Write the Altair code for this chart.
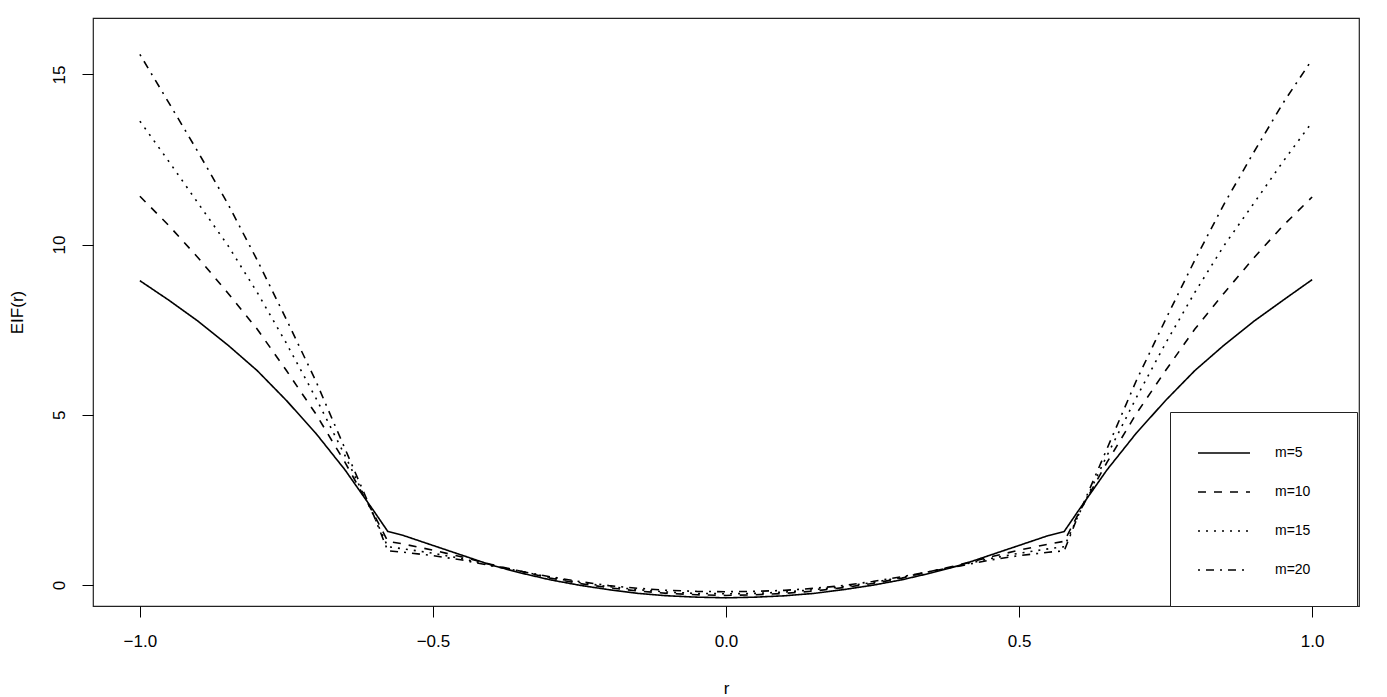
import altair as alt
import pandas as pd

# ---- data ----
r_values = [-1.0, -0.95, -0.9, -0.85, -0.8, -0.75, -0.7, -0.65, -0.6, -0.577,
            -0.55, -0.5, -0.45, -0.4, -0.35, -0.3, -0.25, -0.2, -0.15, -0.1, -0.05,
            0.0,
            0.05, 0.1, 0.15, 0.2, 0.25, 0.3, 0.35, 0.4, 0.45, 0.5, 0.55,
            0.577, 0.6, 0.65, 0.7, 0.75, 0.8, 0.85, 0.9, 0.95, 1.0]

eif_m5 = [8.94, 8.36, 7.74, 7.05, 6.30, 5.42, 4.46, 3.38, 2.15, 1.57,
          1.45, 1.16, 0.87, 0.58, 0.35, 0.15, -0.01, -0.14, -0.25, -0.32, -0.36,
          -0.38,
          -0.36, -0.32, -0.25, -0.14, -0.01, 0.15, 0.35, 0.58, 0.87, 1.16, 1.45,
          1.57, 2.15, 3.38, 4.46, 5.42, 6.30, 7.05, 7.74, 8.36, 8.97]

eif_m10 = [11.42, 10.55, 9.60, 8.58, 7.52, 6.30, 5.03, 3.60, 2.05, 1.28,
           1.20, 1.02, 0.82, 0.60, 0.40, 0.20, 0.04, -0.08, -0.18, -0.25, -0.29,
           -0.31,
           -0.29, -0.25, -0.18, -0.08, 0.04, 0.20, 0.40, 0.60, 0.82, 1.02, 1.20,
           1.28, 2.05, 3.60, 5.03, 6.30, 7.52, 8.58, 9.60, 10.55, 11.40]

eif_m15 = [13.63, 12.43, 11.20, 9.98, 8.60, 7.10, 5.50, 3.80, 2.00, 1.12,
           1.06, 0.93, 0.77, 0.58, 0.40, 0.22, 0.07, -0.05, -0.14, -0.21, -0.25,
           -0.26,
           -0.25, -0.21, -0.14, -0.05, 0.07, 0.22, 0.40, 0.58, 0.77, 0.93, 1.06,
           1.12, 2.00, 3.80, 5.50, 7.10, 8.60, 9.98, 11.20, 12.43, 13.60]

eif_m20 = [15.59, 14.15, 12.70, 11.20, 9.55, 7.80, 6.00, 4.00, 2.00, 1.00,
           0.96, 0.86, 0.73, 0.56, 0.40, 0.24, 0.10, -0.02, -0.10, -0.16, -0.19,
           -0.20,
           -0.19, -0.16, -0.10, -0.02, 0.10, 0.24, 0.40, 0.56, 0.73, 0.86, 0.96,
           1.00, 2.00, 4.00, 6.00, 7.80, 9.55, 11.20, 12.70, 14.15, 15.44]

series_labels = ["m=5", "m=10", "m=15", "m=20"]
x_ticks = [-1.0, -0.5, 0.0, 0.5, 1.0]
y_ticks = [0, 5, 10, 15]

rows = []
for label, vals in zip(series_labels, [eif_m5, eif_m10, eif_m15, eif_m20]):
    for rv, v in zip(r_values, vals):
        rows.append({"r": rv, "EIF": v, "m": label})
df = pd.DataFrame(rows)

FONT = "Liberation Sans"
# invisible (white) spacer title that widens/deepens the legend box like R's legend
SPACER = "M" * 19

chart = alt.Chart(df).mark_line(color="black", strokeWidth=1.6, clip=True).encode(
    x=alt.X("r:Q",
            scale=alt.Scale(domain=[-1.08, 1.08], nice=False, zero=False),
            axis=alt.Axis(values=x_ticks, format=".1f", title="r",
                          grid=False, domain=False, ticks=True, tickSize=11,
                          tickColor="black", tickWidth=1,
                          labelFont=FONT, labelFontSize=17, labelColor="black",
                          labelPadding=16,
                          titleFont=FONT, titleFontSize=17, titleFontWeight="normal",
                          titleColor="black", titleY=82, titleBaseline="middle")),
    y=alt.Y("EIF:Q",
            scale=alt.Scale(domain=[-0.62, 16.66], nice=False, zero=False),
            axis=alt.Axis(values=y_ticks, format="d", title="EIF(r)",
                          grid=False, domain=False, ticks=True, tickSize=11,
                          tickColor="black", tickWidth=1,
                          labelFont=FONT, labelFontSize=17, labelColor="black",
                          labelAngle=270, labelAlign="center", labelBaseline="bottom",
                          labelPadding=14,
                          titleFont=FONT, titleFontSize=17, titleFontWeight="normal",
                          titleColor="black", titleAngle=270, titleX=-76, titleY=294,
                          titleAlign="center", titleBaseline="middle")),
    strokeDash=alt.StrokeDash("m:N",
                              scale=alt.Scale(domain=series_labels,
                                              range=[[1, 0], [8, 8], [2, 6], [2, 6, 8, 6]]),
                              legend=alt.Legend(title=SPACER, titleOrient="bottom",
                                                titleColor="white", titleFontSize=10,
                                                titleFont=FONT, titlePadding=5,
                                                titleLimit=400, titleAnchor="start",
                                                orient="none",
                                                legendX=1077, legendY=394,
                                                padding=14, fillColor="white",
                                                strokeColor="#222",
                                                symbolType="stroke", symbolSize=2704,
                                                symbolStrokeWidth=1.3,
                                                symbolStrokeColor="black",
                                                symbolOffset=13,
                                                labelFont=FONT, labelFontSize=14,
                                                labelColor="black", labelOffset=24,
                                                rowPadding=5)),
).properties(
    width=1266,
    height=588,
    background="white",
    autosize=alt.AutoSizeParams(type="none"),
    padding={"left": 85, "top": 10, "right": 20, "bottom": 96},
).configure_view(
    stroke="#222", strokeWidth=1.2
)

chart.save("out.html", embed_options={"renderer": "svg", "actions": False})
